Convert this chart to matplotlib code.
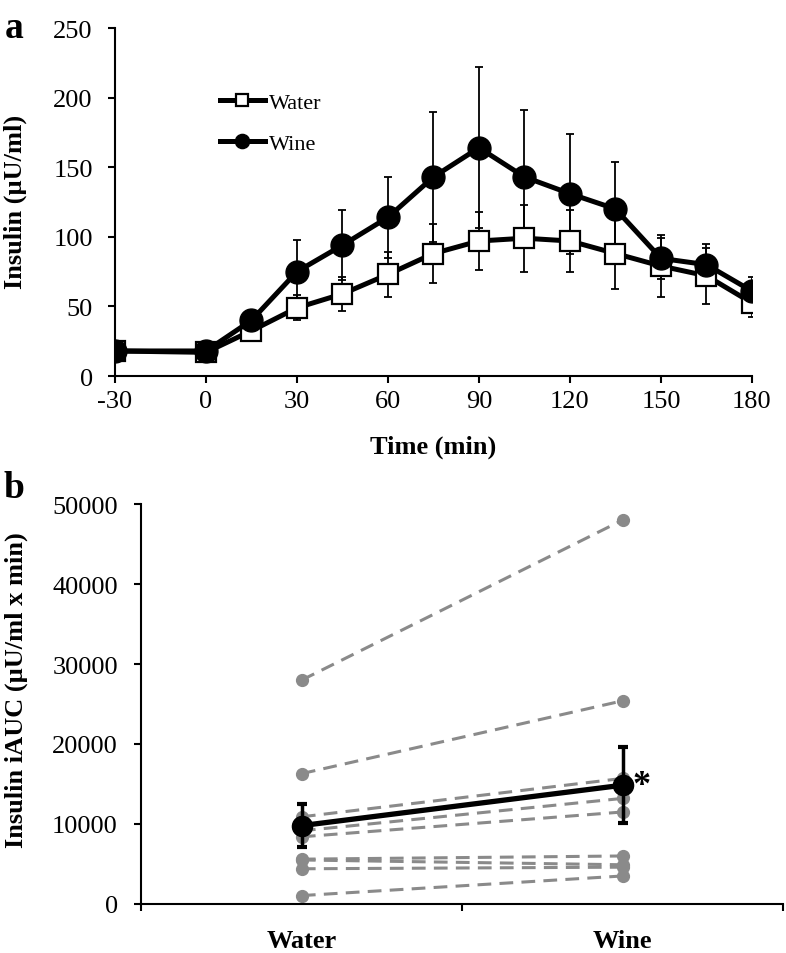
import matplotlib.pyplot as plt
import numpy as np

plt.rcParams['font.family'] = ['Liberation Serif', 'DejaVu Serif']
plt.rcParams['axes.unicode_minus'] = False

# panel a: insulin over time
time_min = [-30, 0, 15, 30, 45, 60, 75, 90, 105, 120, 135, 150, 165, 180]
water_mean = [18, 17, 32.5, 49, 59, 73, 88, 97, 99, 97, 88, 79, 72, 52.5]
water_err = [3, 3, 4, 9, 12, 16, 21, 21, 24, 22, 25.5, 22, 20, 10]
wine_mean = [18, 18, 40, 75, 94, 114, 143, 164, 143, 131, 120, 84.5, 80, 61]
wine_err = [3, 3, 5, 23, 25, 29, 47, 58, 48, 43, 34, 14.5, 15, 10]

# panel b: iAUC per subject
groups = ['Water', 'Wine']
auc_water = [28000, 16300, 10900, 9150, 8400, 5600, 5500, 4400, 1050]
auc_wine = [48000, 25400, 15700, 13200, 11500, 6000, 4900, 4600, 3500]
auc_mean = [9800, 14850]
auc_err = [2700, 4750]

fig = plt.figure(figsize=(7.86, 9.54), dpi=100)
ax1 = fig.add_axes([0.1463, 0.6048, 0.8104, 0.3648])
ax2 = fig.add_axes([0.18, 0.0514, 0.8162, 0.4192])

# ---- panel a
ax1.errorbar(time_min, water_mean, yerr=water_err, fmt='none', ecolor='black',
             elinewidth=1.3, capsize=3, capthick=1.3, zorder=2)
ax1.errorbar(time_min, wine_mean, yerr=wine_err, fmt='none', ecolor='black',
             elinewidth=1.3, capsize=3, capthick=1.3, zorder=2)
ax1.plot(time_min, water_mean, color='black', lw=3.6, marker='s', ms=15,
         mfc='white', mec='black', mew=1.6, label='Water', zorder=3)
ax1.plot(time_min, wine_mean, color='black', lw=3.6, marker='o', ms=16.5,
         mfc='black', mec='black', label='Wine', zorder=4)

ax1.set_xlim(-30, 180)
ax1.set_ylim(0, 250)
ax1.set_xticks(range(-30, 181, 30))
ax1.set_yticks(range(0, 251, 50))
ax1.spines['top'].set_visible(False)
ax1.spines['right'].set_visible(False)
for s in ['left', 'bottom']:
    ax1.spines[s].set_linewidth(1.5)
ax1.tick_params(axis='both', direction='out', length=5, width=1.5, labelsize=19)
ax1.tick_params(axis='y', pad=11)
ax1.tick_params(axis='x', pad=5)
ax1.set_xlabel('Time (min)', fontsize=19, fontweight='bold', labelpad=16)

leg = ax1.legend(loc='upper left', bbox_to_anchor=(0.165, 0.815), frameon=False,
                 fontsize=16, handlelength=2.0, handletextpad=0.2,
                 labelspacing=0.93, borderpad=0, borderaxespad=0, markerscale=0.62)

# ---- panel b
for w, v in zip(auc_water, auc_wine):
    ax2.plot([0, 1], [w, v], color='#8a8a8a', lw=2.2, ls=(0, (4.5, 2.7)),
             marker='o', ms=8.5, zorder=2)
ax2.errorbar([0, 1], auc_mean, yerr=auc_err, color='black', lw=3.8, marker='o',
             ms=14.5, elinewidth=2.5, capsize=3.5, capthick=3, zorder=5)
ax2.annotate('*', xy=(1, auc_mean[1]), xytext=(7, 0), textcoords='offset points',
             fontsize=26, fontweight='bold', ha='left', va='center')

ax2.set_xlim(-0.5, 1.5)
ax2.set_ylim(0, 50000)
ax2.set_yticks(range(0, 50001, 10000))
ax2.set_xticks([-0.5, 0.5, 1.5])
ax2.set_xticklabels([])
ax2.set_xticks([0, 1], minor=True)
ax2.set_xticklabels(groups, minor=True, fontsize=19, fontweight='bold')
ax2.spines['top'].set_visible(False)
ax2.spines['right'].set_visible(False)
for s in ['left', 'bottom']:
    ax2.spines[s].set_linewidth(1.5)
ax2.tick_params(axis='both', which='major', direction='out', length=5, width=1.5,
                labelsize=19)
ax2.tick_params(axis='y', pad=12)
ax2.tick_params(axis='x', which='minor', length=0, pad=18)

fig.text(15 / 786, 1 - 202 / 954, 'Insulin (µU/ml)', fontsize=19,
         fontweight='bold', rotation=90, ha='center', va='center')
fig.text(16 / 786, 1 - 690 / 954, 'Insulin iAUC (µU/ml x min)', fontsize=19,
         fontweight='bold', rotation=90, ha='center', va='center')

fig.text(14 / 786, 1 - 28 / 954, 'a', fontsize=27, fontweight='bold',
         ha='center', va='center')
fig.text(14 / 786, 1 - 488 / 954, 'b', fontsize=27, fontweight='bold',
         ha='center', va='center')

fig.savefig('out.png', dpi=100)
